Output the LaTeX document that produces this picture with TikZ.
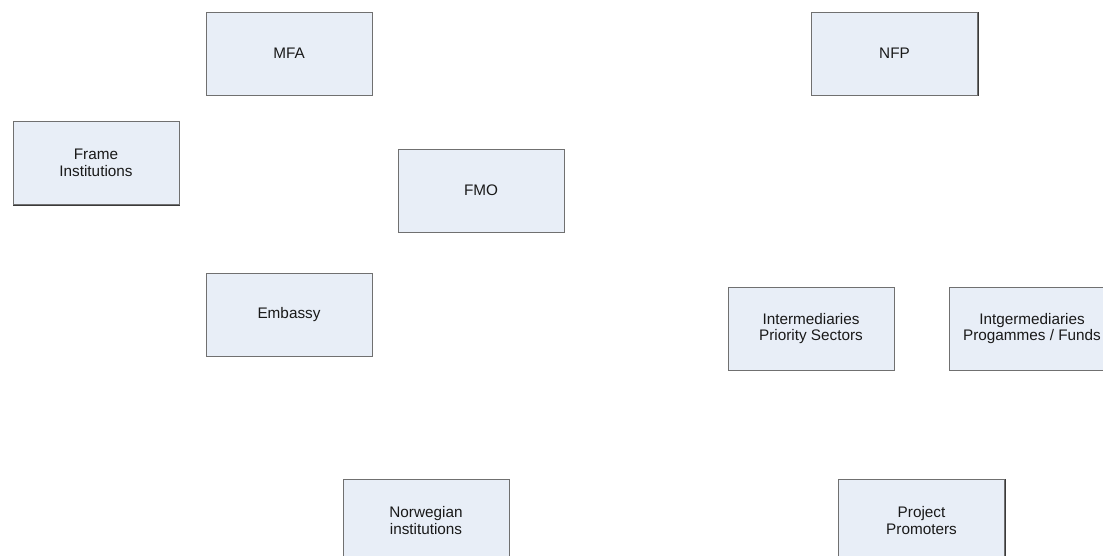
\documentclass[tikz,border=0pt]{standalone}
\usepackage{fontspec}
\setmainfont{Liberation Sans}
\definecolor{boxfill}{HTML}{E8EEF7}
\definecolor{boxline}{HTML}{707070}
\definecolor{shadowc}{HTML}{3A3A3A}
\begin{document}
\begin{tikzpicture}[x=1pt,y=-1pt,
  entity/.style={rectangle, draw=boxline, line width=0.7pt, fill=boxfill,
    minimum width=166pt, minimum height=83pt, inner sep=0pt, align=center,
    font=\fontsize{15.3}{16.8}\selectfont, text=black!90,
    preaction={draw=shadowc, line width=0.8pt, transform canvas={shift={(0.8pt,-0.8pt)}}}}]
\useasboundingbox (0,0) rectangle (1103,555);
\node[entity] (mfa) at (289,53.5) {MFA};
\node[entity] (nfp) at (894.5,53.5) {NFP};
\node[entity] (frame) at (96,163) {Frame\\Institutions};
\node[entity] (fmo) at (481,190.5) {FMO};
\node[entity] (emb) at (289,314.5) {Embassy};
\node[entity] (ips) at (811,328.5) {Intermediaries\\Priority Sectors};
\node[entity] (ipf) at (1032,328.5) {Intgermediaries\\Progammes / Funds};
\node[entity] (nor) at (426,520.5) {Norwegian\\institutions};
\node[entity] (pp) at (921.5,520.5) {Project\\Promoters};
\end{tikzpicture}
\end{document}
